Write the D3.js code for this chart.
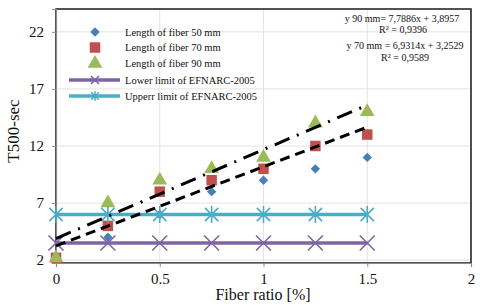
<!DOCTYPE html>
<html>
<head>
<meta charset="utf-8">
<script src="https://cdn.jsdelivr.net/npm/d3@7"></script>
<style>
  body { margin: 0; background: #fff; }
  svg { display: block; font-family: "Liberation Serif", "Times New Roman", serif; }
</style>
</head>
<body>
<svg id="chart" width="480" height="305"></svg>
<script>
// fiber ratio values (x) and T500 results per fiber length
const ratios = [0, 0.25, 0.5, 0.75, 1, 1.25, 1.5];
const fiber50 = [2.2, 4, 6, 8, 9, 10, 11];
const fiber70 = [2.2, 5, 8, 9, 10, 12, 13];
const fiber90 = [2.2, 7, 9, 10, 11, 14, 15];
const lowerLimit = [3.5, 3.5, 3.5, 3.5, 3.5, 3.5, 3.5];
const upperLimit = [6, 6, 6, 6, 6, 6, 6];

// linear trends (slope, intercept)
const trend90 = [7.7886, 3.8957];
const trend70 = [6.9314, 3.2529];

const xTicks = [0, 0.5, 1, 1.5, 2];
const yTicks = [2, 7, 12, 17, 22];
const xTickLabels = ['0', '0.5', '1', '1.5', '2'];

const legendItems = [
  'Length of fiber 50 mm',
  'Length of fiber 70 mm',
  'Length of fiber 90 mm',
  'Lower limit of EFNARC-2005',
  'Upperr limit of EFNARC-2005'
];
const equations = [
  'y 90 mm= 7,7886x + 3,8957',
  'R² = 0,9396',
  'y 70 mm = 6,9314x + 3,2529',
  'R² = 0,9589'
];

const colors = {
  blue: '#4a7ebb', red: '#c0504d', green: '#9bbb59',
  purple: '#8064a2', cyan: '#4bacc6'
};

const svg = d3.select('#chart');
const plot = { left: 56, right: 471, top: 9, bottom: 263 };

const x = d3.scaleLinear().domain([0, 2]).range([plot.left, plot.right]);
const y = d3.scaleLinear().domain([1.75, 24]).range([plot.bottom, plot.top]);

// gridlines
svg.append('g')
  .selectAll('line')
  .data(xTicks)
  .join('line')
  .attr('x1', d => x(d)).attr('x2', d => x(d))
  .attr('y1', plot.top).attr('y2', plot.bottom)
  .attr('stroke', '#e3e3e3').attr('stroke-width', 1);

svg.append('g')
  .selectAll('line')
  .data(yTicks)
  .join('line')
  .attr('x1', plot.left).attr('x2', plot.right)
  .attr('y1', d => y(d)).attr('y2', d => y(d))
  .attr('stroke', '#e3e3e3').attr('stroke-width', 1);

// plot frame (dark on top / right)
svg.append('rect')
  .attr('x', plot.left).attr('y', plot.top)
  .attr('width', plot.right - plot.left).attr('height', plot.bottom - plot.top)
  .attr('fill', 'none').attr('stroke', '#1a1a1a').attr('stroke-width', 1.5);

// axes
const xAxis = svg.append('g')
  .attr('transform', `translate(0,${plot.bottom})`)
  .call(d3.axisBottom(x).tickValues(xTicks).tickFormat((d, i) => xTickLabels[i]).tickSize(4).tickPadding(6));
const yAxis = svg.append('g')
  .attr('transform', `translate(${plot.left},0)`)
  .call(d3.axisLeft(y).tickValues(yTicks).tickSize(4).tickPadding(8));

[xAxis, yAxis].forEach(ax => {
  ax.select('.domain').attr('stroke', '#8c8c8c').attr('stroke-width', 1.2);
  ax.selectAll('.tick line').attr('stroke', '#8c8c8c');
  ax.selectAll('.tick text')
    .attr('font-family', '"Liberation Serif", serif')
    .attr('font-size', 15).attr('fill', '#111');
});

// axis titles
svg.append('text')
  .attr('x', 263).attr('y', 300)
  .attr('text-anchor', 'middle')
  .attr('font-size', 16).attr('fill', '#111')
  .text('Fiber ratio [%]');
svg.append('text')
  .attr('transform', 'translate(19,131) rotate(-90)')
  .attr('text-anchor', 'middle')
  .attr('font-size', 17).attr('fill', '#111')
  .text('T500-sec');

// marker shapes
const diamond = d3.symbol().type(d3.symbolSquare).size(44);
const square = d3.symbol().type(d3.symbolSquare).size(110);
const triangle = d3.symbol().type(d3.symbolTriangle).size(95);

function crossPath(s) {
  return `M${-s},${-s}L${s},${s}M${-s},${s}L${s},${-s}`;
}
function starPath(s) {
  return crossPath(s * 0.95) + `M0,${-s * 1.2}L0,${s * 1.2}`;
}

// scatter series
function scatter(values, color, sym, rot) {
  svg.append('g')
    .selectAll('path')
    .data(values)
    .join('path')
    .attr('transform', (d, i) => `translate(${x(ratios[i])},${y(d)}) rotate(${rot})`)
    .attr('d', sym)
    .attr('fill', color);
}
scatter(fiber50, colors.blue, diamond, 45);
scatter(fiber70, colors.red, square, 0);
scatter(fiber90, colors.green, triangle, 0);

// limit lines with markers
function limitSeries(values, color, markerFn) {
  const g = svg.append('g');
  g.append('path')
    .datum(values)
    .attr('fill', 'none').attr('stroke', color).attr('stroke-width', 3.5)
    .attr('d', d3.line().x((d, i) => x(ratios[i])).y(d => y(d)));
  g.selectAll('path.m')
    .data(values)
    .join('path')
    .attr('transform', (d, i) => `translate(${x(ratios[i])},${y(d)})`)
    .attr('d', markerFn)
    .attr('fill', 'none').attr('stroke', color).attr('stroke-width', 1.6);
}
limitSeries(lowerLimit, colors.purple, () => crossPath(7.5));
limitSeries(upperLimit, colors.cyan, () => starPath(7));

// trend lines
function trend(coef, dash) {
  const pts = [0, 1.5].map(v => [v, coef[0] * v + coef[1]]);
  svg.append('path')
    .datum(pts)
    .attr('fill', 'none').attr('stroke', '#000').attr('stroke-width', 3)
    .attr('stroke-dasharray', dash)
    .attr('d', d3.line().x(d => x(d[0])).y(d => y(d[1])));
}
trend(trend70, '10,6');
trend(trend90, '16,8,2,8');

// legend
const legend = svg.append('g');
const legendY = [32, 47.5, 63.5, 80, 96];
legend.append('path')
  .attr('transform', `translate(95,${legendY[0]}) rotate(45)`).attr('d', diamond).attr('fill', colors.blue);
legend.append('path')
  .attr('transform', `translate(95,${legendY[1]})`).attr('d', square).attr('fill', colors.red);
legend.append('path')
  .attr('transform', `translate(95,${legendY[2]})`).attr('d', triangle).attr('fill', colors.green);
[[3, colors.purple, crossPath(4)], [4, colors.cyan, starPath(4)]].forEach(([i, c, m]) => {
  legend.append('line')
    .attr('x1', 69).attr('x2', 120).attr('y1', legendY[i]).attr('y2', legendY[i])
    .attr('stroke', c).attr('stroke-width', 3.5);
  legend.append('path')
    .attr('transform', `translate(95,${legendY[i]})`).attr('d', m)
    .attr('fill', 'none').attr('stroke', c).attr('stroke-width', 1.5);
});
legend.selectAll('text')
  .data(legendItems)
  .join('text')
  .attr('x', 125).attr('y', (d, i) => legendY[i] + 3.5)
  .attr('font-size', 10.5).attr('fill', '#111')
  .text(d => d);

// equations
const eqPos = [[402, 18], [403, 29.5], [405, 45], [405, 57]];
svg.append('g')
  .selectAll('text')
  .data(equations)
  .join('text')
  .attr('x', (d, i) => eqPos[i][0]).attr('y', (d, i) => eqPos[i][1] + 3.5)
  .attr('text-anchor', 'middle')
  .attr('font-size', 10).attr('fill', '#111')
  .text(d => d);
</script>
</body>
</html>
